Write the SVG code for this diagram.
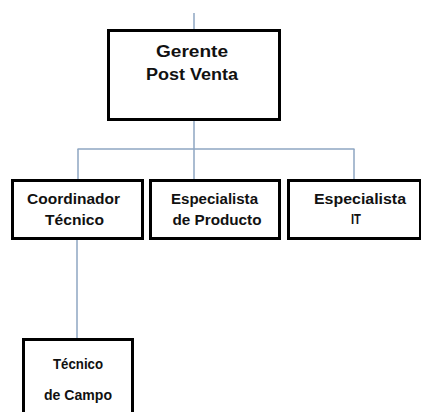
<svg xmlns="http://www.w3.org/2000/svg" width="421" height="412" viewBox="0 0 421 412">
<style>
.box{fill:#fff;stroke:#000;stroke-width:3}
.lbl{font-family:"Liberation Sans",Arial,sans-serif;font-weight:bold;fill:#111;text-anchor:middle}
.t1{font-size:16px}
.t2{font-size:14px}
.conn line{stroke:#8ea6c2;stroke-width:1.5}
</style>
<rect width="421" height="412" fill="#fff"/>
<g id="connectors" class="conn">
<line x1="194" y1="13" x2="194" y2="30"/>
<line x1="194" y1="120" x2="194" y2="180"/>
<line x1="77.5" y1="149" x2="354.5" y2="149"/>
<line x1="78" y1="149" x2="78" y2="180"/>
<line x1="354" y1="149" x2="354" y2="180"/>
<line x1="77" y1="239" x2="77" y2="339"/>
</g>
<g id="gerente">
<rect class="box" x="108.5" y="30.5" width="171" height="89"/>
<text class="lbl t1" x="192" y="57" textLength="72" lengthAdjust="spacingAndGlyphs">Gerente</text>
<text class="lbl t1" x="192" y="80" textLength="92" lengthAdjust="spacingAndGlyphs">Post Venta</text>
</g>
<g id="coordinador">
<rect class="box" x="12.5" y="180.5" width="130" height="58"/>
<text class="lbl t2" x="73.5" y="203.5" textLength="93" lengthAdjust="spacingAndGlyphs">Coordinador</text>
<text class="lbl t2" x="74.5" y="225" textLength="59" lengthAdjust="spacingAndGlyphs">Técnico</text>
</g>
<g id="especialista-producto">
<rect class="box" x="150.5" y="180.5" width="129" height="58"/>
<text class="lbl t2" x="214.5" y="204" textLength="87" lengthAdjust="spacingAndGlyphs">Especialista</text>
<text class="lbl t2" x="217" y="225" textLength="89" lengthAdjust="spacingAndGlyphs">de Producto</text>
</g>
<g id="especialista-it">
<rect class="box" x="288.5" y="180.5" width="132" height="58"/>
<text class="lbl t2" x="360" y="204" textLength="92" lengthAdjust="spacingAndGlyphs">Especialista</text>
<text class="lbl t2" x="356" y="224" textLength="10" lengthAdjust="spacingAndGlyphs">IT</text>
</g>
<g id="tecnico-campo">
<rect class="box" x="23.5" y="339.5" width="109" height="80"/>
<text class="lbl t2" x="78" y="369" textLength="50" lengthAdjust="spacingAndGlyphs">Técnico</text>
<text class="lbl t2" x="78" y="400" textLength="68" lengthAdjust="spacingAndGlyphs">de Campo</text>
</g>
</svg>
